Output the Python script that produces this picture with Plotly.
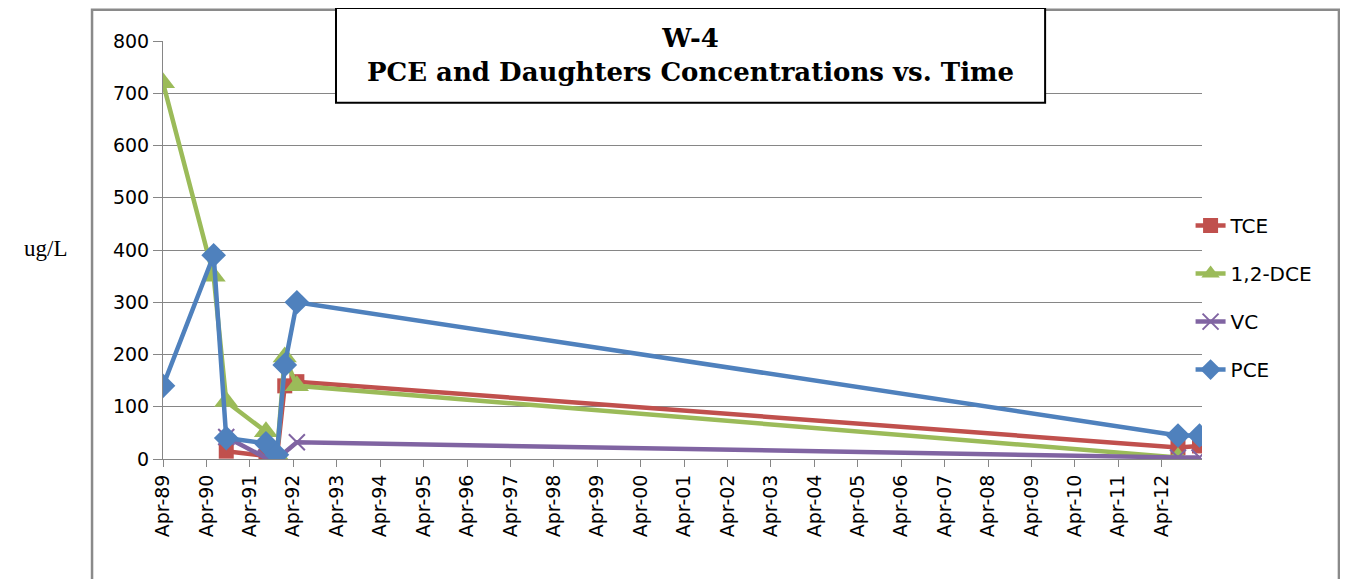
import plotly.graph_objects as go

# ---- data ----
tce_dates = ["1990-09-15", "1991-08-15", "1991-11-15", "1992-01-20", "1992-05-01", "2012-08-15", "2013-02-12"]
tce_vals = [15, 5, 3, 140, 148, 22, 25]

dce_dates = ["1989-04-01", "1990-06-01", "1990-09-15", "1991-08-15", "1991-11-15", "1992-01-20", "1992-05-01", "2012-08-15"]
dce_vals = [720, 350, 110, 52, 8, 195, 140, 3]

vc_dates = ["1990-09-15", "1991-08-15", "1991-11-15", "1992-05-01", "2012-08-15", "2013-02-12"]
vc_vals = [42, 2, 0, 32, 3, 3]

pce_dates = ["1989-04-01", "1990-06-01", "1990-09-15", "1991-08-15", "1991-11-15", "1992-01-20", "1992-05-01", "2012-08-15", "2013-02-12"]
pce_vals = [140, 390, 40, 30, 8, 180, 300, 45, 45]

title_lines = ["W-4", "PCE and Daughters Concentrations vs. Time"]
y_label = "ug/L"

RED, GREEN, PURPLE, BLUE = "#C0504D", "#9BBB59", "#8064A2", "#4F81BD"
GRID = "#868686"

fig = go.Figure()
fig.add_trace(go.Scatter(x=tce_dates, y=tce_vals, name="TCE", mode="lines+markers",
                         line=dict(color=RED, width=4.5), legendgroup="a",
                         marker=dict(symbol="square", size=15, color=RED)))
fig.add_trace(go.Scatter(x=dce_dates, y=dce_vals, name="1,2-DCE", mode="lines+markers",
                         line=dict(color=GREEN, width=4.5), legendgroup="b",
                         marker=dict(symbol="triangle-up", size=21, color=GREEN)))
fig.add_trace(go.Scatter(x=vc_dates, y=vc_vals, name="VC", mode="lines+markers",
                         line=dict(color=PURPLE, width=4.5), legendgroup="c",
                         marker=dict(symbol="x-thin", size=16, color=PURPLE,
                                     line=dict(color=PURPLE, width=2))))
fig.add_trace(go.Scatter(x=pce_dates, y=pce_vals, name="PCE", mode="lines+markers",
                         line=dict(color=BLUE, width=4.5), legendgroup="d",
                         marker=dict(symbol="diamond", size=19, color=BLUE)))

TICKFONT = dict(family="DejaVu Sans", size=19, color="#000000")

fig.update_layout(
    width=1340, height=571,
    margin=dict(l=155, r=146, t=33, b=120),
    paper_bgcolor="white", plot_bgcolor="white",
    font=dict(family="DejaVu Sans", size=19, color="#000000"),
    showlegend=True,
    legend=dict(x=0.989, y=0.605, xanchor="left", yanchor="top",
                font=dict(family="DejaVu Sans", size=20, color="#000000"),
                tracegroupgap=19, bgcolor="rgba(0,0,0,0)"),
    xaxis=dict(type="date", range=["1989-04-01", "2013-03-05"],
               tick0="1989-04-01", dtick="M12", tickformat="%b-%y",
               tickangle=-90, ticks="outside", ticklen=7, tickcolor=GRID,
               showgrid=False, showline=True, linecolor=GRID, linewidth=1,
               tickfont=TICKFONT),
    yaxis=dict(range=[0, 800], dtick=100, tick0=0, showgrid=True,
               gridcolor=GRID, gridwidth=1, zeroline=False,
               showline=True, linecolor=GRID, linewidth=1,
               ticks="outside", ticklen=9, tickcolor=GRID,
               tickfont=TICKFONT),
    shapes=[
        dict(type="rect", xref="paper", yref="paper", x0=-0.0683, x1=1.1318,
             y0=-0.32, y1=1.0745, line=dict(color="#8a8a8a", width=2.5),
             fillcolor="rgba(0,0,0,0)", layer="below"),
        dict(type="rect", xref="paper", yref="paper", x0=0.1665, x1=0.849,
             y0=0.852, y1=1.079, line=dict(color="#000000", width=2),
             fillcolor="white", layer="above"),
    ],
    annotations=[
        dict(text="<b>" + "<br>".join(title_lines) + "</b>", xref="paper", yref="paper",
             x=0.5077, y=0.9655, xanchor="center", yanchor="middle", showarrow=False,
             font=dict(family="DejaVu Serif", size=26, color="#000000"), align="center"),
        dict(text=y_label, xref="paper", yref="paper", x=(45 - 163) / 1039, y=(459 - 248) / 418,
             xanchor="center", yanchor="middle", showarrow=False,
             font=dict(family="Liberation Serif", size=23, color="#000000")),
    ],
)

fig.write_html("out.html")
